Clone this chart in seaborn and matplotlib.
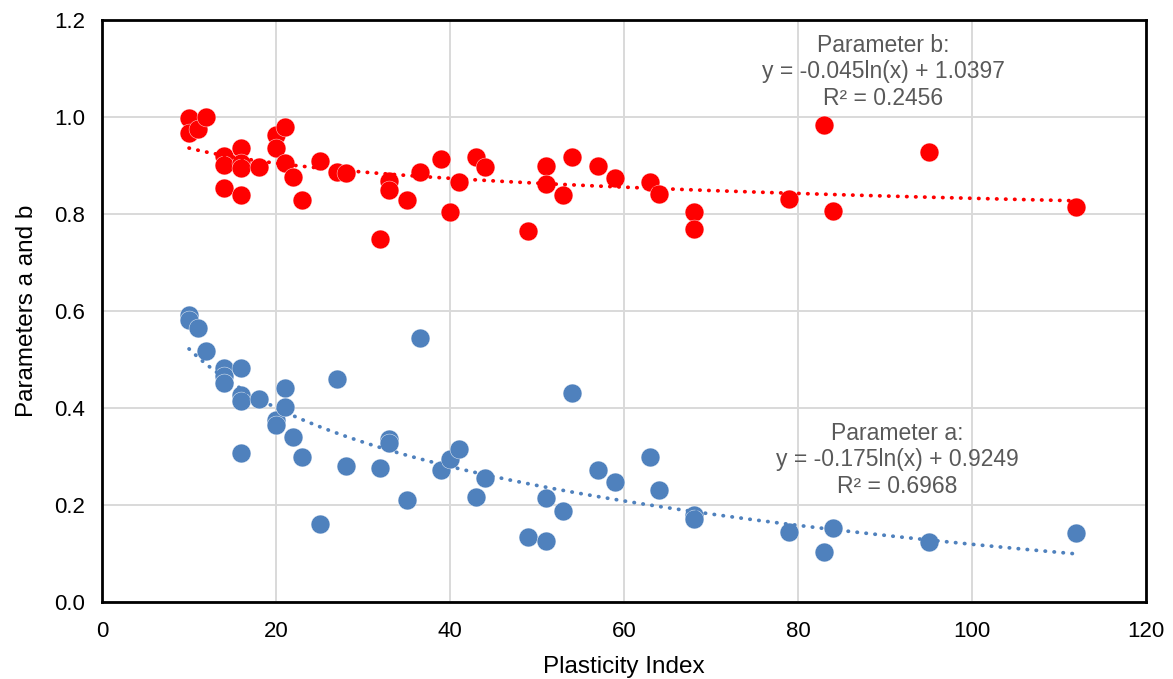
import numpy as np
import pandas as pd
import matplotlib
matplotlib.use("Agg")
import matplotlib.pyplot as plt
from matplotlib.ticker import MultipleLocator
import seaborn as sns

# plasticity index of each sample (same samples for both parameters)
plasticity_index = [10, 10, 11, 12, 14, 14, 14, 16, 16, 16, 16, 18, 20, 20, 21, 21,
                    22, 23, 25, 27, 28, 32, 33, 33, 35, 36.5, 39, 40, 41, 43, 44, 49,
                    51, 51, 53, 54, 57, 59, 63, 64, 68, 68, 79, 83, 84, 95, 112]

param_b = [0.998, 0.967, 0.975, 1.000, 0.920, 0.901, 0.854, 0.936, 0.905, 0.895, 0.839,
           0.897, 0.963, 0.936, 0.980, 0.905, 0.876, 0.829, 0.909, 0.887, 0.885, 0.749,
           0.868, 0.850, 0.829, 0.887, 0.913, 0.804, 0.866, 0.918, 0.897, 0.765, 0.899,
           0.862, 0.839, 0.918, 0.899, 0.874, 0.866, 0.841, 0.804, 0.769, 0.831, 0.983,
           0.806, 0.928, 0.814]

param_a = [0.592, 0.581, 0.565, 0.518, 0.482, 0.466, 0.451, 0.482, 0.427, 0.415, 0.307,
           0.419, 0.375, 0.365, 0.441, 0.403, 0.340, 0.299, 0.161, 0.460, 0.280, 0.276,
           0.336, 0.328, 0.210, 0.545, 0.272, 0.295, 0.315, 0.217, 0.256, 0.134, 0.214,
           0.126, 0.188, 0.431, 0.272, 0.247, 0.299, 0.231, 0.179, 0.171, 0.144, 0.103,
           0.152, 0.124, 0.142]

# log trendlines as reported on the chart
coef_a = (-0.175, 0.9249)
coef_b = (-0.045, 1.0397)
label_a = "Parameter a:\ny = -0.175ln(x) + 0.9249\nR² = 0.6968"
label_b = "Parameter b:\ny = -0.045ln(x) + 1.0397\nR² = 0.2456"

blue = "#4F81BD"
red = "#FF0000"

df = pd.DataFrame({"PI": plasticity_index, "a": param_a, "b": param_b})
x_fit = np.linspace(min(plasticity_index), max(plasticity_index), 200)
trend = pd.DataFrame({"x": x_fit,
                      "a": coef_a[0] * np.log(x_fit) + coef_a[1],
                      "b": coef_b[0] * np.log(x_fit) + coef_b[1]})

sns.set_style("white")
plt.rcParams["font.family"] = ["Liberation Sans", "DejaVu Sans"]
plt.rcParams["text.color"] = "black"
plt.rcParams["axes.labelcolor"] = "black"
plt.rcParams["xtick.color"] = "black"
plt.rcParams["ytick.color"] = "black"

fig = plt.figure(figsize=(11.73, 6.79), dpi=100)
ax = fig.add_axes([0.087, 0.1134, 0.89, 0.857])

sns.scatterplot(data=df, x="PI", y="b", color=red, s=185, edgecolor="white",
                linewidth=0.3, ax=ax, zorder=3)
sns.scatterplot(data=df, x="PI", y="a", color=blue, s=185, edgecolor="white",
                linewidth=0.3, ax=ax, zorder=3)
sns.lineplot(data=trend, x="x", y="b", color=red, lw=2.7, ax=ax, zorder=4,
             linestyle=(0, (0.1, 2.3)), dash_capstyle="round")
sns.lineplot(data=trend, x="x", y="a", color=blue, lw=2.7, ax=ax, zorder=4,
             linestyle=(0, (0.1, 2.3)), dash_capstyle="round")

ax.text(89.8, 1.093, label_b, ha="center", va="center", fontsize=16.5,
        color="#595959", linespacing=1.2, zorder=5)
ax.text(91.4, 0.293, label_a, ha="center", va="center", fontsize=16.5,
        color="#595959", linespacing=1.2, zorder=5)

ax.set_xlim(0, 120)
ax.set_ylim(0, 1.2)
ax.xaxis.set_major_locator(MultipleLocator(20))
ax.xaxis.set_minor_locator(MultipleLocator(4))
ax.yaxis.set_major_locator(MultipleLocator(0.2))
ax.yaxis.set_minor_locator(MultipleLocator(0.04))
ax.yaxis.set_major_formatter(plt.FormatStrFormatter("%.1f"))
ax.grid(True, which="major", color="#D9D9D9", lw=1.4, zorder=0)
ax.set_axisbelow(True)
ax.tick_params(which="both", direction="in", color="black", width=1.2,
               labelsize=16, length=6)
ax.tick_params(axis="x", which="both", pad=14)
ax.tick_params(axis="y", which="both", pad=12)
for sp in ax.spines.values():
    sp.set_color("black")
    sp.set_linewidth(2)

ax.set_xlabel("Plasticity Index", fontsize=17.5, labelpad=10)
ax.set_ylabel("Parameters a and b", fontsize=17.5, labelpad=12)

fig.savefig("out.png", dpi=100)
